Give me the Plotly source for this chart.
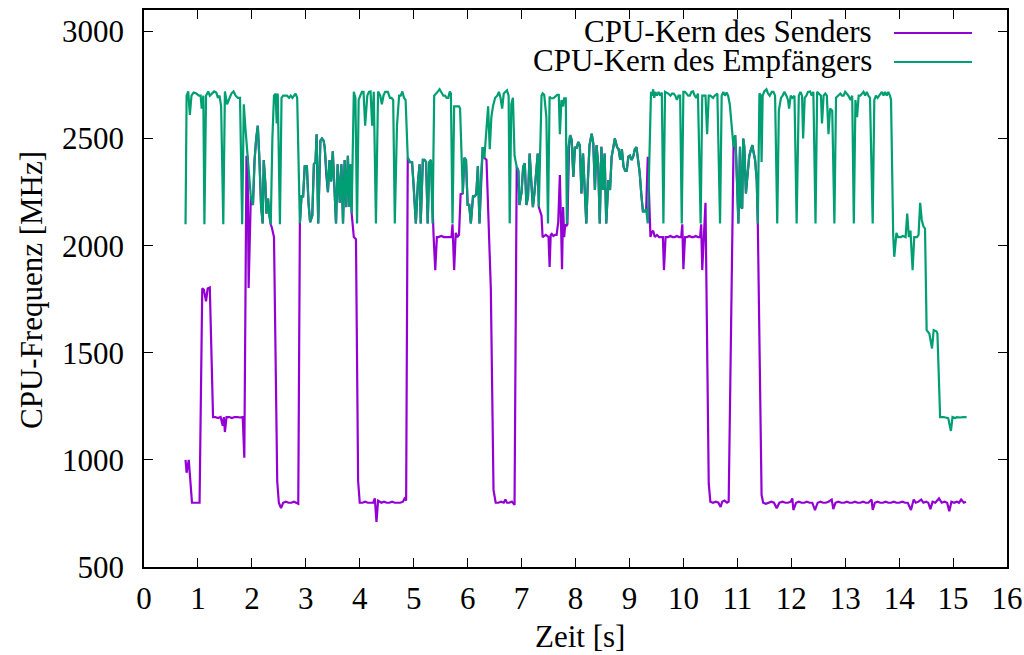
import plotly.graph_objects as go

# ---------------- data: [time in s, frequency in MHz] ----------------
RECV_A = [[0.77, 2100], [0.79, 2700], [0.82, 2720], [0.85, 2610], [0.88, 2700], [0.92, 2715],
          [0.97, 2710], [1.02, 2700], [1.05, 2700], [1.07, 2640], [1.10, 2700], [1.12, 2100],
          [1.15, 2700], [1.19, 2720], [1.22, 2700], [1.26, 2710], [1.30, 2720], [1.34, 2715],
          [1.37, 2690], [1.40, 2700], [1.43, 2650], [1.47, 2100], [1.50, 2720], [1.54, 2660],
          [1.58, 2690], [1.62, 2710], [1.66, 2720], [1.70, 2700], [1.74, 2690], [1.78, 2690],
          [1.82, 2100], [1.85, 2660], [1.88, 2550], [1.92, 2415], [1.95, 2290], [1.98, 2230]]
SEND_A = [[0.77, 1000], [0.79, 940], [0.83, 1000], [0.89, 800], [0.94, 800], [0.99, 800],
          [1.03, 800], [1.08, 1800], [1.11, 1795], [1.15, 1740], [1.18, 1800], [1.22, 1805],
          [1.28, 1200], [1.32, 1200], [1.37, 1195], [1.42, 1200], [1.46, 1160], [1.48, 1200],
          [1.50, 1130], [1.53, 1200], [1.58, 1200], [1.63, 1195], [1.68, 1200], [1.73, 1200],
          [1.78, 1198], [1.83, 1200], [1.86, 1010], [1.90, 2415], [1.92, 2415], [1.94, 1802],
          [1.98, 2230]]
SHARED_B = [[2.02, 2190], [2.05, 2400], [2.08, 2500], [2.11, 2560], [2.14, 2400], [2.17, 2190],
            [2.20, 2104], [2.22, 2400], [2.25, 2290], [2.27, 2150], [2.30, 2220], [2.32, 2150],
            [2.35, 2100]]
RECV_C = [[2.38, 2500], [2.41, 2700], [2.44, 2710], [2.46, 2570], [2.48, 2710], [2.52, 2100],
          [2.55, 2690], [2.58, 2700], [2.61, 2700], [2.65, 2700], [2.69, 2690], [2.72, 2700],
          [2.75, 2690], [2.78, 2700], [2.81, 2710], [2.84, 2690]]
SEND_C = [[2.37, 2085], [2.41, 2040], [2.47, 900], [2.50, 800], [2.54, 775], [2.58, 800],
          [2.63, 805], [2.68, 800], [2.73, 800], [2.78, 805], [2.83, 800], [2.86, 795]]
SHARED_D = [[2.89, 2104], [2.92, 2230], [2.95, 2230], [2.98, 2370], [3.02, 2370], [3.05, 2200],
            [3.08, 2110], [3.12, 2140], [3.15, 2380], [3.18, 2390], [3.20, 2520], [3.23, 2104],
            [3.27, 2490], [3.30, 2500], [3.33, 2490], [3.35, 2460], [3.38, 2330], [3.41, 2250],
            [3.44, 2400], [3.47, 2300], [3.50, 2440], [3.53, 2230], [3.56, 2104], [3.59, 2380],
            [3.63, 2200], [3.66, 2380], [3.69, 2104], [3.72, 2400], [3.75, 2180], [3.78, 2420],
            [3.81, 2180], [3.83, 2380], [3.85, 2150]]
RECV_E = [[3.89, 2718], [3.92, 2690], [3.95, 2104], [3.98, 2680], [4.01, 2700], [4.04, 2718],
          [4.07, 2718], [4.10, 2560], [4.14, 2700], [4.17, 2718], [4.20, 2720], [4.23, 2560],
          [4.26, 2718], [4.30, 2104], [4.34, 2720], [4.38, 2700], [4.41, 2660], [4.44, 2700],
          [4.47, 2718], [4.52, 2718], [4.56, 2690], [4.59, 2690], [4.62, 2680], [4.65, 2104],
          [4.69, 2560], [4.73, 2700], [4.76, 2700], [4.79, 2720], [4.82, 2690], [4.85, 2680]]
SEND_E = [[3.89, 2040], [3.93, 2030], [3.97, 900], [4.00, 800], [4.05, 800], [4.10, 805],
          [4.15, 800], [4.20, 800], [4.25, 800], [4.28, 820], [4.31, 711], [4.34, 810],
          [4.40, 800], [4.45, 805], [4.50, 800], [4.55, 800], [4.60, 805], [4.65, 800],
          [4.70, 800], [4.75, 800], [4.80, 805], [4.83, 820], [4.86, 810]]
SHARED_F = [[4.89, 2410], [4.93, 2390], [4.97, 2390], [5.00, 2280], [5.04, 2104], [5.08, 2300],
            [5.11, 2380], [5.13, 2104], [5.17, 2400], [5.20, 2400], [5.23, 2390], [5.26, 2104],
            [5.29, 2390], [5.32, 2400], [5.35, 2104]]
RECV_G = [[5.38, 2700], [5.42, 2710], [5.45, 2720], [5.48, 2730], [5.51, 2715], [5.55, 2700],
          [5.58, 2700], [5.61, 2690], [5.64, 2690], [5.67, 2720], [5.69, 2710], [5.72, 2104],
          [5.75, 2650], [5.79, 2650], [5.84, 2650], [5.86, 2640]]
SEND_G = [[5.37, 2040], [5.40, 1886], [5.43, 2040], [5.46, 2040], [5.51, 2045], [5.56, 2040],
          [5.61, 2040], [5.66, 2040], [5.70, 2040], [5.72, 2100], [5.75, 1886], [5.78, 2060],
          [5.81, 2040], [5.84, 2050], [5.87, 2240]]
SHARED_H = [[5.91, 2244], [5.94, 2410], [5.97, 2400], [6.00, 2190], [6.03, 2190], [6.06, 2104],
            [6.10, 2230], [6.13, 2230], [6.16, 2240], [6.19, 2370], [6.22, 2104], [6.25, 2330],
            [6.28, 2460], [6.31, 2410]]
RECV_I = [[6.35, 2560], [6.38, 2650], [6.41, 2450], [6.44, 2600], [6.47, 2650], [6.51, 2690],
          [6.55, 2700], [6.58, 2718], [6.61, 2690], [6.64, 2640], [6.67, 2710], [6.70, 2720],
          [6.73, 2725], [6.76, 2700], [6.78, 2104], [6.81, 2660], [6.84, 2690], [6.87, 2420]]
SEND_I = [[6.35, 2400], [6.43, 1800], [6.48, 860], [6.52, 800], [6.57, 800], [6.62, 805],
          [6.67, 800], [6.70, 815], [6.73, 800], [6.77, 800], [6.82, 805], [6.87, 790]]
SHARED_J = [[6.91, 2368], [6.94, 2350], [6.96, 2190], [7.00, 2250], [7.03, 2368], [7.06, 2385],
            [7.09, 2190], [7.12, 2230], [7.15, 2430], [7.18, 2300], [7.21, 2180], [7.24, 2250],
            [7.27, 2350], [7.30, 2430], [7.32, 2180]]
RECV_K = [[7.37, 2700], [7.39, 2711], [7.42, 2704], [7.46, 2600], [7.49, 2104], [7.52, 2696],
          [7.54, 2688], [7.59, 2688], [7.62, 2696], [7.66, 2704], [7.69, 2704], [7.71, 2520],
          [7.74, 2680], [7.77, 2650], [7.79, 2688], [7.82, 2688], [7.84, 2104], [7.87, 2460]]
SEND_K = [[7.35, 2160], [7.37, 2140], [7.39, 2040], [7.42, 2045], [7.45, 2050], [7.48, 2045],
          [7.50, 2040], [7.52, 1900], [7.54, 2050], [7.56, 2055], [7.59, 2045], [7.62, 2050],
          [7.65, 2050], [7.68, 2110], [7.71, 2330], [7.73, 2120], [7.75, 1890], [7.77, 2180],
          [7.79, 2040], [7.81, 2100], [7.83, 2090], [7.85, 2100], [7.88, 2460]]
SHARED_L = [[7.90, 2516], [7.93, 2493], [7.96, 2321], [7.99, 2461], [8.02, 2453], [8.05, 2484],
            [8.08, 2469], [8.11, 2244], [8.14, 2430], [8.17, 2275], [8.20, 2104], [8.23, 2306],
            [8.26, 2469], [8.30, 2523], [8.33, 2477], [8.36, 2260], [8.39, 2469], [8.42, 2383],
            [8.45, 2104], [8.48, 2461], [8.51, 2260], [8.54, 2430], [8.57, 2104], [8.61, 2306],
            [8.64, 2260], [8.67, 2415], [8.70, 2460], [8.73, 2500], [8.77, 2460], [8.80, 2450],
            [8.83, 2400], [8.86, 2450], [8.89, 2370], [8.92, 2350], [8.95, 2350], [8.98, 2415],
            [9.01, 2420], [9.04, 2400], [9.07, 2415], [9.10, 2450], [9.13, 2460], [9.16, 2400],
            [9.19, 2340], [9.22, 2240], [9.25, 2160], [9.28, 2160], [9.31, 2170]]
RECV_M = [[9.34, 2104], [9.38, 2500], [9.40, 2718], [9.42, 2700], [9.44, 2730], [9.46, 2690],
          [9.48, 2718], [9.51, 2700], [9.54, 2718], [9.57, 2700], [9.60, 2715], [9.63, 2104],
          [9.66, 2718], [9.72, 2710], [9.76, 2700], [9.79, 2710], [9.82, 2710], [9.85, 2700],
          [9.88, 2680], [9.91, 2700], [9.94, 2700], [9.97, 2104], [10.00, 2718], [10.03, 2718],
          [10.06, 2710], [10.09, 2700], [10.12, 2700], [10.15, 2718], [10.18, 2720], [10.21, 2700],
          [10.24, 2690], [10.27, 2710], [10.32, 2104], [10.35, 2700], [10.38, 2700], [10.41, 2700],
          [10.44, 2520], [10.47, 2700], [10.50, 2700], [10.55, 2690], [10.58, 2700], [10.63, 2710],
          [10.68, 2104], [10.71, 2700], [10.74, 2718], [10.77, 2700], [10.80, 2715], [10.83, 2700],
          [10.86, 2660], [10.90, 2540]]
SEND_M = [[9.34, 2415], [9.39, 2040], [9.41, 2060], [9.44, 2070], [9.47, 2040], [9.51, 2050],
          [9.55, 2040], [9.59, 2040], [9.62, 2040], [9.64, 1886], [9.67, 2040], [9.72, 2040],
          [9.76, 2045], [9.80, 2040], [9.84, 2040], [9.88, 2045], [9.92, 2040], [9.96, 2040],
          [9.98, 2100], [10.00, 1890], [10.03, 2040], [10.07, 2040], [10.11, 2045], [10.15, 2040],
          [10.19, 2040], [10.23, 2045], [10.27, 2040], [10.31, 2040], [10.33, 2100], [10.35, 1886],
          [10.38, 2040], [10.41, 2200], [10.47, 890], [10.50, 805], [10.55, 800], [10.60, 805],
          [10.65, 800], [10.69, 780], [10.72, 805], [10.76, 810], [10.81, 800], [10.84, 805]]
SHARED_N = [[10.93, 2461], [10.96, 2516], [10.98, 2415], [11.00, 2260], [11.02, 2104], [11.05, 2461],
            [11.07, 2181], [11.09, 2173], [11.11, 2500], [11.13, 2461], [11.16, 2244], [11.18, 2306],
            [11.21, 2400], [11.22, 2415], [11.25, 2446], [11.28, 2469], [11.30, 2438], [11.33, 2400],
            [11.36, 2306], [11.38, 2104]]
RECV_O = [[11.41, 2710], [11.43, 2705], [11.45, 2390], [11.47, 2700], [11.50, 2720], [11.54, 2730],
          [11.57, 2710], [11.60, 2700], [11.64, 2718], [11.67, 2718], [11.70, 2700], [11.74, 2104],
          [11.77, 2630], [11.81, 2690], [11.84, 2700], [11.87, 2718], [11.91, 2700], [11.94, 2680],
          [11.96, 2640], [11.99, 2700], [12.02, 2690], [12.06, 2700], [12.10, 2104], [12.14, 2700],
          [12.17, 2718], [12.20, 2700], [12.22, 2500], [12.25, 2690], [12.28, 2700], [12.31, 2718],
          [12.35, 2720], [12.38, 2700], [12.41, 2718], [12.45, 2104], [12.48, 2718], [12.52, 2710],
          [12.55, 2700], [12.57, 2570], [12.60, 2700], [12.63, 2710], [12.66, 2700], [12.69, 2520],
          [12.72, 2640], [12.76, 2630], [12.80, 2104], [12.83, 2690], [12.87, 2700], [12.91, 2710],
          [12.94, 2700], [12.97, 2700], [13.00, 2718], [13.03, 2710], [13.06, 2700], [13.10, 2680],
          [13.13, 2700], [13.16, 2104], [13.19, 2680], [13.22, 2600], [13.25, 2700], [13.28, 2700],
          [13.31, 2710], [13.34, 2718], [13.37, 2700], [13.40, 2718], [13.43, 2700], [13.46, 2690],
          [13.51, 2104], [13.54, 2680], [13.57, 2700], [13.60, 2690], [13.63, 2700], [13.68, 2718],
          [13.71, 2700], [13.74, 2718], [13.77, 2700], [13.80, 2718], [13.83, 2700], [13.85, 2680],
          [13.89, 2050], [13.91, 1948], [13.95, 2060], [13.98, 2040], [14.03, 2040], [14.07, 2045],
          [14.12, 2040], [14.15, 2150], [14.18, 2040], [14.21, 2070], [14.25, 1886], [14.28, 2040],
          [14.33, 2040], [14.36, 2050], [14.39, 2200], [14.42, 2120], [14.45, 2090], [14.48, 2080],
          [14.51, 1606], [14.56, 1590], [14.61, 1520], [14.64, 1606], [14.69, 1600], [14.71, 1590],
          [14.76, 1200], [14.82, 1200], [14.91, 1195], [14.96, 1135], [14.99, 1200], [15.04, 1195],
          [15.07, 1200], [15.13, 1198], [15.19, 1200], [15.25, 1200]]
SEND_O = [[11.45, 836], [11.48, 800], [11.53, 795], [11.58, 800], [11.63, 805], [11.68, 800],
          [11.73, 774], [11.78, 800], [11.84, 805], [11.89, 800], [11.94, 800], [11.99, 805],
          [12.02, 820], [12.04, 766], [12.09, 800], [12.14, 805], [12.19, 800], [12.24, 800],
          [12.29, 805], [12.34, 800], [12.39, 800], [12.44, 766], [12.49, 800], [12.54, 805],
          [12.59, 800], [12.64, 800], [12.69, 805], [12.75, 815], [12.78, 770], [12.82, 800],
          [12.87, 805], [12.93, 800], [12.98, 800], [13.03, 805], [13.08, 800], [13.13, 800],
          [13.18, 805], [13.23, 800], [13.28, 800], [13.33, 805], [13.38, 800], [13.43, 800],
          [13.49, 815], [13.51, 766], [13.55, 800], [13.60, 805], [13.65, 800], [13.70, 800],
          [13.75, 805], [13.80, 800], [13.85, 800], [13.90, 805], [13.95, 800], [14.00, 800],
          [14.06, 805], [14.11, 800], [14.16, 800], [14.22, 766], [14.27, 815], [14.31, 800],
          [14.36, 805], [14.41, 815], [14.45, 800], [14.50, 805], [14.54, 800], [14.58, 770],
          [14.62, 805], [14.67, 800], [14.74, 820], [14.79, 800], [14.84, 805], [14.89, 800],
          [14.93, 760], [14.97, 805], [15.02, 800], [15.07, 805], [15.11, 800], [15.15, 815],
          [15.20, 800], [15.24, 805]]

X_TICKS = list(range(0, 17))
Y_TICKS = [500, 1000, 1500, 2000, 2500, 3000]
LABEL_SENDER = "CPU-Kern des Senders"
LABEL_RECV = "CPU-Kern des Empfängers"
X_TITLE = "Zeit [s]"
Y_TITLE = "CPU-Frequenz [MHz]"

COL_SEND = "#9400D3"
COL_RECV = "#009E73"

recv = (RECV_A + SHARED_B + RECV_C + SHARED_D + RECV_E + SHARED_F + RECV_G + SHARED_H +
        RECV_I + SHARED_J + RECV_K + SHARED_L + RECV_M + SHARED_N + RECV_O)
send = (SEND_A + SHARED_B + SEND_C + SHARED_D + SEND_E + SHARED_F + SEND_G + SHARED_H +
        SEND_I + SHARED_J + SEND_K + SHARED_L + SEND_M + SHARED_N + SEND_O)

FONT = '"Liberation Serif", "DejaVu Serif", serif'
FS = 31

fig = go.Figure()
fig.add_trace(go.Scatter(x=[p[0] for p in send], y=[p[1] for p in send], mode="lines",
                         name=LABEL_SENDER, line=dict(color=COL_SEND, width=2.2)))
fig.add_trace(go.Scatter(x=[p[0] for p in recv], y=[p[1] for p in recv], mode="lines",
                         name=LABEL_RECV, line=dict(color=COL_RECV, width=2.2)))

L, R, T, B = 144, 17, 10, 88
W, H = 1024, 655
pw, ph = W - L - R, H - T - B

def px(xp):
    return (xp - L) / pw

def py(yp):
    return (H - B - yp) / ph

axis_common = dict(showline=True, linecolor="black", linewidth=1.5, mirror="ticks",
                   ticks="inside", ticklen=9, tickwidth=1.2, tickcolor="black",
                   showgrid=False, zeroline=False, ticklabeloverflow="allow", automargin=False,
                   tickfont=dict(family=FONT, size=FS, color="black"))
fig.update_xaxes(range=[0, 16], tickvals=X_TICKS, ticklabelstandoff=3, **axis_common)
fig.update_yaxes(range=[500, 3100], tickvals=Y_TICKS, ticklabelstandoff=12, **axis_common)

annotations = [
    dict(text=X_TITLE, x=px(580), y=py(636), xref="paper", yref="paper", showarrow=False,
         xanchor="center", yanchor="middle", font=dict(family=FONT, size=FS, color="black")),
    dict(text=Y_TITLE, x=px(31), y=py(290), xref="paper", yref="paper", showarrow=False,
         textangle=-90, xanchor="center", yanchor="middle", font=dict(family=FONT, size=FS, color="black")),
    dict(text=LABEL_SENDER, x=px(874), y=py(32), xref="paper", yref="paper", showarrow=False,
         xanchor="right", yanchor="middle", font=dict(family=FONT, size=FS, color="black")),
    dict(text=LABEL_RECV, x=px(874), y=py(61), xref="paper", yref="paper", showarrow=False,
         xanchor="right", yanchor="middle", font=dict(family=FONT, size=FS, color="black")),
]
shapes = [
    dict(type="line", xref="paper", yref="paper", x0=px(894), x1=px(972), y0=py(33), y1=py(33),
         line=dict(color=COL_SEND, width=2.2)),
    dict(type="line", xref="paper", yref="paper", x0=px(894), x1=px(972), y0=py(62), y1=py(62),
         line=dict(color=COL_RECV, width=2.2)),
]

fig.update_layout(width=W, height=H, margin=dict(l=L, r=R, t=T, b=B, autoexpand=False),
                  paper_bgcolor="white", plot_bgcolor="white", showlegend=False,
                  font=dict(family=FONT, size=FS, color="black"),
                  annotations=annotations, shapes=shapes)

fig.write_html("out.html")
